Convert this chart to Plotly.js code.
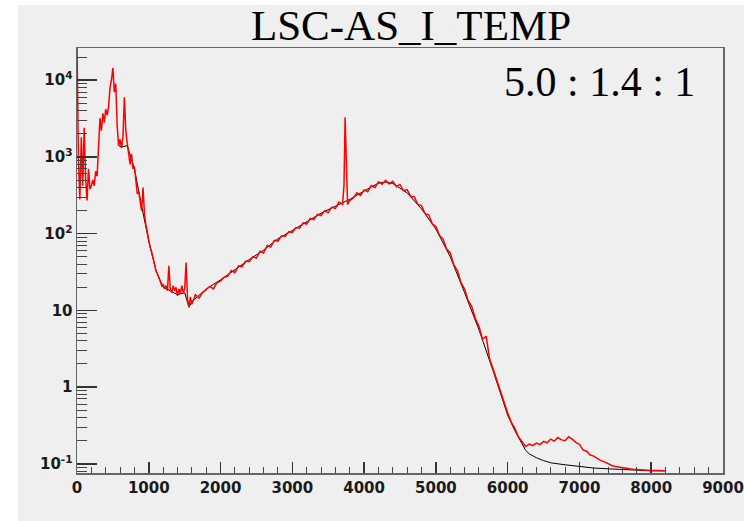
<!DOCTYPE html>
<html><head><meta charset="utf-8">
<script src="https://cdn.plot.ly/plotly-3.0.1.min.js"></script>
<style>html,body{margin:0;padding:0;background:#fff;}
#chart{position:absolute;left:0;top:0;width:744px;height:521px;}</style>
</head><body><div id="chart"></div>
<script>
const titleText = 'LSC-AS_I_TEMP';
const ratioText = '5.0 : 1.4 : 1';

const redX = [0,20,40,60,80,100,120,140,160,180,200,220,240,260,280,300,320,340,360,380,
400,420,440,460,480,500,520,540,560,580,600,620,640,660,680,700,720,740,760,780,
800,820,840,860,880,900,920,940,960,980,1000,1020,1040,1060,1080,1100,1120,1140,1160,1180,
1200,1220,1240,1260,1280,1300,1320,1340,1360,1380,1400,1420,1440,1460,1480,1500,1520,1540,1560,1580,
1600,1650,1700,1750,1800,1850,1900,1950,2000,2050,2100,2150,2200,2250,2300,2350,2400,2450,2500,2550,
2600,2650,2700,2750,2800,2850,2900,2950,3000,3050,3100,3150,3200,3250,3300,3350,3400,3450,3500,3550,
3600,3650,3700,3720,3735,3750,3770,3800,3850,3900,3950,4000,4050,4100,4150,4200,4250,4300,4350,4400,
4450,4500,4550,4600,4650,4700,4750,4800,4850,4900,4950,5000,5050,5100,5150,5200,5250,5300,5350,5400,
5450,5500,5550,5600,5650,5700,5750,5800,5850,5900,5950,6000,6050,6100,6150,6200,6250,6300,6350,6400,
6450,6500,6550,6600,6650,6700,6750,6800,6850,6900,6950,7000,7050,7100,7150,7200,7250,7300,7350,7400,
7450,7500,7550,7600,7650,7700,7750,7800,7900,8000,8100,8190];
const redY = [30000,900,280,1800,420,2400,520,270,700,380,420,500,420,650,560,1500,3200,2200,3700,2800,
4200,3500,4500,8000,10000,14500,7000,9000,2500,1400,1700,1300,1800,6000,2200,1500,1100,800,1100,700,
750,450,330,350,240,200,400,180,130,100,80,66,58,46,40,33,30,26,24,21,
22,19,21,18,38,19,17,21,18,20,15.5,19,16.5,21,17,19,42,14,11,15,
12,16,14.5,17,18.5,20.5,19,23,24,27,28,33,31,38,37,44,43,50,48,59,
56,70,67,82,80,94,92,106,104,120,118,138,133,158,152,178,172,198,188,222,
212,258,240,430,3300,1050,240,270,292,340,315,372,352,425,398,475,440,495,445,480,
410,438,362,375,305,300,240,232,182,176,134,124,95,85,63,56,39,33,23,19,
13.4,11.2,7.8,6.2,4.2,4.6,2.3,1.7,1.22,0.92,0.63,0.46,0.35,0.29,0.225,0.195,0.168,0.18,0.172,0.186,
0.178,0.196,0.188,0.21,0.198,0.22,0.205,0.2,0.225,0.21,0.19,0.18,0.152,0.146,0.13,0.126,0.118,0.11,0.106,0.1,
0.095,0.092,0.09,0.088,0.087,0.086,0.085,0.084,0.083,0.082,0.082,0.081];

const blackX = [580,620,700,800,900,1000,1100,1200,1300,1400,1500,1560,1600,1700,
1800,2000,2200,2400,2600,2800,3000,3200,3400,3600,3800,4000,4200,4300,4400,4600,4800,5000,5200,5400,
5600,5800,6000,6100,6200,6250,6300,6400,6500,6600,6800,7000,7200,7400,7600,7800,8000,8190];
const blackY = [1400,1350,1400,700,230,80,33,20,18,16,17,11,13,15.5,
19,25,34,46,61,86,110,144,185,228,280,360,455,470,450,340,210,115,50,17,
5.6,1.6,0.43,0.27,0.18,0.15,0.135,0.12,0.11,0.103,0.097,0.092,0.088,0.086,0.084,0.082,0.081,0.081];

const xTickVals = [0,1000,2000,3000,4000,5000,6000,7000,8000,9000];
const yTickVals = [0.1,1,10,100,1000,10000];
const yTickText = ['10<sup>-1</sup>','1','10','10<sup>2</sup>','10<sup>3</sup>','10<sup>4</sup>'];
const yMinorMult = [2,3,4,5,6,7,8,9];

const yMinorVals = [];
[0.01,0.1,1,10,100,1000,10000].forEach(d => yMinorMult.forEach(m => yMinorVals.push(d*m)));

const tickFont = {family:'DejaVu Sans', size:15, color:'#1a1a1a', weight:'bold'};
const bg = '#efefef';

const traces = [
  {x: blackX, y: blackY, type:'scatter', mode:'lines', line:{color:'#000000', width:1}, hoverinfo:'skip'},
  {x: redX, y: redY, type:'scatter', mode:'lines', line:{color:'#ff0000', width:1.5}, hoverinfo:'skip'}
];

const layout = {
  width:744, height:521,
  paper_bgcolor:'#ffffff', plot_bgcolor:bg,
  margin:{l:77, r:21, t:48, b:48},
  showlegend:false,
  title:{text:titleText, font:{family:'Liberation Serif', size:43, color:'#000'},
         x:0.5524, xanchor:'center', xref:'container', y:0.981, yanchor:'top', yref:'container'},
  xaxis:{range:[0,9000], tickmode:'array', tickvals:xTickVals, ticks:'inside', ticklen:11, tickwidth:1.5,
         tickcolor:'#333', showline:true, linecolor:'#666', linewidth:1.5, mirror:true,
         showgrid:false, zeroline:false, tickfont:tickFont,
         minor:{ticks:'inside', ticklen:6, tickwidth:1, tickcolor:'#444', dtick:200, tick0:0, showgrid:false}},
  yaxis:{type:'log', range:[-1.12,4.42], tickmode:'array', tickvals:yTickVals, ticktext:yTickText,
         ticks:'inside', ticklen:20, tickwidth:1.5, tickcolor:'#333', showline:true, linecolor:'#666',
         linewidth:1.5, mirror:true, showgrid:false, zeroline:false, tickfont:tickFont,
         minor:{ticks:'inside', ticklen:10, tickwidth:1, tickcolor:'#444', tickmode:'array', tickvals:yMinorVals, showgrid:false}},
  shapes:[{type:'rect', xref:'paper', yref:'paper', x0:-0.0913, x1:1.04, y0:-0.12, y1:1.101,
           fillcolor:bg, line:{width:0}, layer:'below'}],
  annotations:[{text:ratioText, xref:'paper', yref:'paper', x:0.96, y:0.92, xanchor:'right', yanchor:'middle',
                showarrow:false, font:{family:'Liberation Serif', size:42, color:'#000'}}]
};

Plotly.newPlot('chart', traces, layout, {displayModeBar:false, staticPlot:true});
</script></body></html>
